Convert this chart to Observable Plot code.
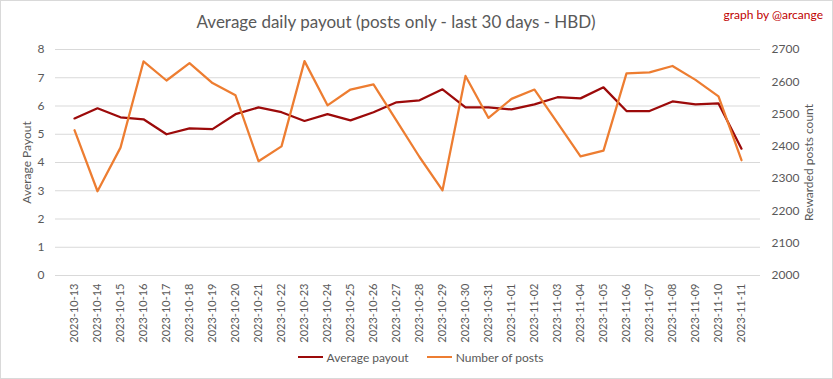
<!DOCTYPE html>
<html>
<head>
<meta charset="utf-8">
<script src="https://cdn.jsdelivr.net/npm/d3@7"></script>
<script src="https://cdn.jsdelivr.net/npm/@observablehq/plot@0.6"></script>
<style>
  body { margin: 0; background: #fff; }
  #chart { position: relative; width: 833px; height: 379px; box-sizing: border-box; font-family: Lato, "Open Sans", sans-serif; overflow: hidden; }
  #frame { position: absolute; left: 0; top: 0; width: 833px; height: 379px; box-sizing: border-box; border: 1px solid #d9d9d9; pointer-events: none; }
  #header { position: relative; height: 40px; }
  #title { position: absolute; left: 0; width: 792px; top: 11px; text-align: center; font-size: 17px; color: #595959; white-space: nowrap; }
  #credit { position: absolute; right: 10px; top: 7px; font-size: 12px; color: #c00000; }
  #plot svg { display: block; background: transparent; }
  #legend { height: 18px; display: flex; justify-content: center; align-items: center; gap: 18px; font-size: 12px; color: #595959; padding-left: 8px; }
  .item { display: flex; align-items: center; gap: 4px; }
  .sw { display: inline-block; width: 25px; height: 2.5px; }
</style>
</head>
<body>
<div id="chart">
  <div id="header">
    <div id="title">Average daily payout (posts only - last 30 days - HBD)</div>
    <div id="credit">graph by @arcange</div>
  </div>
  <div id="plot"></div>
  <div id="legend"></div>
  <div id="frame"></div>
</div>
<script>
const dates = ["2023-10-13","2023-10-14","2023-10-15","2023-10-16","2023-10-17","2023-10-18","2023-10-19","2023-10-20","2023-10-21","2023-10-22","2023-10-23","2023-10-24","2023-10-25","2023-10-26","2023-10-27","2023-10-28","2023-10-29","2023-10-30","2023-10-31","2023-11-01","2023-11-02","2023-11-03","2023-11-04","2023-11-05","2023-11-06","2023-11-07","2023-11-08","2023-11-09","2023-11-10","2023-11-11"];
const avgPayout = [5.56,5.92,5.60,5.53,5.00,5.21,5.18,5.71,5.95,5.78,5.47,5.71,5.49,5.78,6.13,6.20,6.59,5.95,5.95,5.88,6.06,6.31,6.27,6.66,5.82,5.82,6.16,6.06,6.09,4.49];
const numPosts = [2450,2261,2396,2663,2604,2658,2596,2558,2354,2400,2664,2527,2576,2592,2480,2367,2264,2618,2488,2547,2576,2473,2369,2387,2626,2629,2649,2606,2555,2357];
const leftTicks = [0,1,2,3,4,5,6,7,8];
const rightTicks = [2000,2100,2200,2300,2400,2500,2600,2700];
const seriesNames = ["Average payout", "Number of posts"];
const colors = ["#9c0a0a", "#ed7d31"];

// secondary axis mapping: 2000..2700 -> 0..8
const rMin = 2000, rMax = 2700, lMax = 8;
const toLeft = v => (v - rMin) / (rMax - rMin) * lMax;

const payoutData = dates.map((d, i) => ({date: d, value: avgPayout[i]}));
const postsData = dates.map((d, i) => ({date: d, value: toLeft(numPosts[i])}));

const textColor = "#595959";

const plot = Plot.plot({
  width: 833,
  height: 308,
  marginTop: 9,
  marginBottom: 73,
  marginLeft: 55,
  marginRight: 73,
  style: {fontFamily: "Lato, 'Open Sans', sans-serif", fontSize: "12px", color: textColor, background: "transparent"},
  x: {type: "point", domain: dates, padding: 0.5, align: 0.5},
  y: {domain: [0, 8]},
  marks: [
    Plot.gridY(leftTicks, {stroke: "#d9d9d9", strokeOpacity: 1, strokeWidth: 1}),
    Plot.axisY(leftTicks, {anchor: "left", tickSize: 0, tickPadding: 11, label: "Average Payout", labelAnchor: "center", labelArrow: "none", labelOffset: 33, fill: textColor}),
    Plot.axisY(rightTicks.map(toLeft), {anchor: "right", tickSize: 0, tickPadding: 11, tickFormat: d => String(Math.round(rMin + d / lMax * (rMax - rMin))), label: "Rewarded posts count", labelAnchor: "center", labelArrow: "none", labelOffset: 52, fill: textColor}),
    Plot.axisX({anchor: "bottom", tickSize: 0, tickPadding: 8, tickRotate: -90, label: null, fill: textColor, fontSize: 11}),
    Plot.line(payoutData, {x: "date", y: "value", stroke: colors[0], strokeWidth: 2.25}),
    Plot.line(postsData, {x: "date", y: "value", stroke: colors[1], strokeWidth: 2.25})
  ]
});
document.getElementById("plot").appendChild(plot);

const legend = document.getElementById("legend");
seriesNames.forEach((name, i) => {
  const it = document.createElement("div");
  it.className = "item";
  const sw = document.createElement("span");
  sw.className = "sw";
  sw.style.background = colors[i];
  const t = document.createElement("span");
  t.textContent = name;
  it.appendChild(sw); it.appendChild(t);
  legend.appendChild(it);
});
</script>
</body>
</html>
